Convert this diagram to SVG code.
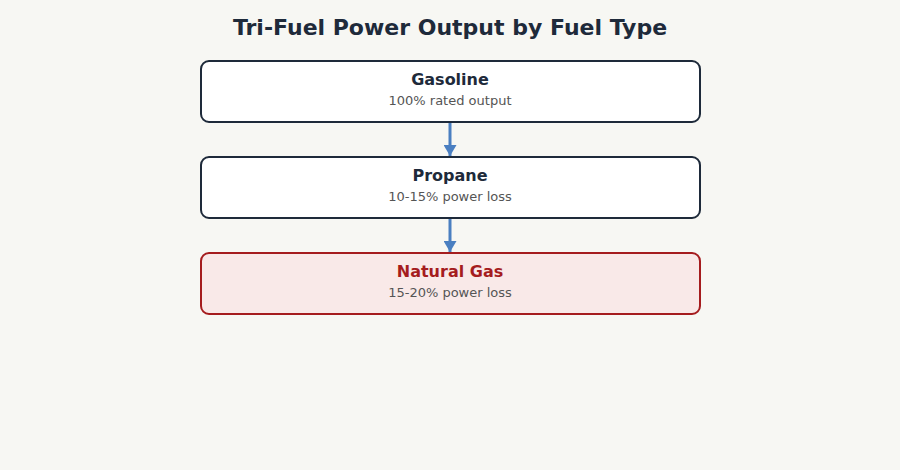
<svg xmlns="http://www.w3.org/2000/svg" width="900" height="470" viewBox="0 0 900 470">
<defs>
<marker id="ah" markerWidth="11" markerHeight="13" refX="11" refY="6.5" orient="auto" markerUnits="userSpaceOnUse">
<path d="M0,0 L11,6.5 L0,13 z" fill="#4a7fc1"/>
</marker>
<style>
text{font-family:"DejaVu Sans",sans-serif;text-anchor:middle}
.title{font-size:22px;font-weight:bold;fill:#1e2a3a}
.box{fill:#ffffff;stroke:#1e2a3a;stroke-width:2}
.boxr{fill:#f9e9e8;stroke:#a51c1e;stroke-width:2}
.h{font-size:16px;font-weight:bold;fill:#1e2a3a}
.hr{font-size:16px;font-weight:bold;fill:#a51c1e}
.s{font-size:13px;fill:#555555}
.c{stroke:#4a7fc1;stroke-width:3;fill:none}
</style>
</defs>
<rect width="900" height="470" fill="#f7f7f3"/>
<text class="title" x="450" y="35">Tri-Fuel Power Output by Fuel Type</text>
<g id="connectors">
<line class="c" x1="450" y1="123" x2="450" y2="156" marker-end="url(#ah)"/>
<line class="c" x1="450" y1="219" x2="450" y2="252" marker-end="url(#ah)"/>
</g>
<g id="gasoline">
<rect class="box" x="201" y="61" width="499" height="61" rx="8"/>
<text class="h" x="450" y="85">Gasoline</text>
<text class="s" x="450" y="105">100% rated output</text>
</g>
<g id="propane">
<rect class="box" x="201" y="157" width="499" height="61" rx="8"/>
<text class="h" x="450" y="181">Propane</text>
<text class="s" x="450" y="201">10-15% power loss</text>
</g>
<g id="natural-gas">
<rect class="boxr" x="201" y="253" width="499" height="61" rx="8"/>
<text class="hr" x="450" y="277">Natural Gas</text>
<text class="s" x="450" y="297">15-20% power loss</text>
</g>
</svg>
